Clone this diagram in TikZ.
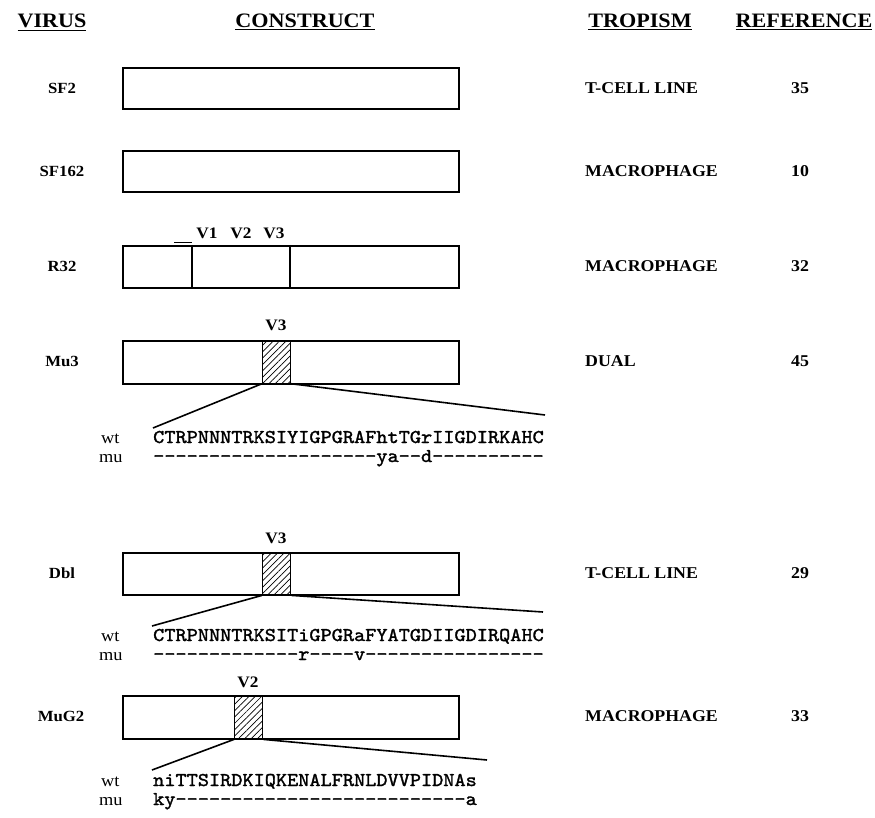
\documentclass[tikz,border=0pt]{standalone}
\usepackage{fontspec}
\setmainfont{Liberation Serif}[FakeStretch=1.08]
\newfontfamily\seqfont{lmmono10-regular}[Extension=.otf, FakeBold=1.6, FakeStretch=1.09]
\usetikzlibrary{patterns.meta}
\begin{document}
\begin{tikzpicture}[x=1pt,y=-1pt,
  hdr/.style={font=\fontsize{20.5}{24}\selectfont\bfseries, inner sep=0, anchor=base},
  lab/.style={font=\fontsize{15.5}{18}\selectfont\bfseries, inner sep=0},
  trop/.style={font=\fontsize{16.5}{18}\selectfont\bfseries, inner sep=0, anchor=west},
  num/.style={font=\fontsize{16.5}{18}\selectfont\bfseries, inner sep=0},
  vlab/.style={font=\fontsize{16}{18}\selectfont\bfseries, inner sep=0},
  con/.style={draw, line width=1.6pt, minimum width=336pt, inner sep=0, anchor=north west},
  hat/.style={draw, line width=1.4pt, pattern={Lines[angle=45,distance=4.5pt,line width=0.7pt]}, minimum width=28pt, inner sep=0, anchor=north west},
  seq/.style={font=\fontsize{19.5}{22}\selectfont\seqfont, anchor=base west, inner sep=0},
  wm/.style={font=\fontsize{17}{18}\selectfont, anchor=base west, inner sep=0},
  zl/.style={line width=1.6pt},
  div/.style={line width=1.6pt}
]
\useasboundingbox (0,0) rectangle (875,818);

% headers
\node[hdr] (hv) at (52,28) {\underline{VIRUS}};
\node[hdr] (hc) at (305,28) {\underline{CONSTRUCT}};
\node[hdr] (ht) at (640,28) {\underline{TROPISM}};
\node[hdr] (hr) at (804,28) {\underline{REFERENCE}};

% virus labels
\node[lab] (v1) at (62,88) {SF2};
\node[lab] (v2) at (62,171) {SF162};
\node[lab] (v3) at (62,266) {R32};
\node[lab] (v4) at (62,361) {Mu3};
\node[lab] (v5) at (62,573) {Dbl};
\node[lab] (v6) at (61,716) {MuG2};

% tropism
\node[trop] (t1) at (585,88) {T-CELL LINE};
\node[trop] (t2) at (585,171) {MACROPHAGE};
\node[trop] (t3) at (585,266) {MACROPHAGE};
\node[trop] (t4) at (585,361) {DUAL};
\node[trop] (t5) at (585,573) {T-CELL LINE};
\node[trop] (t6) at (585,716) {MACROPHAGE};

% references
\node[num] (r1) at (800,88) {35};
\node[num] (r2) at (800,171) {10};
\node[num] (r3) at (800,266) {32};
\node[num] (r4) at (800,361) {45};
\node[num] (r5) at (800,573) {29};
\node[num] (r6) at (800,716) {33};

% constructs
\node[con, minimum height=41pt] (b1) at (122,67) {};
\node[con, minimum height=41pt] (b2) at (122,150) {};
\node[con, minimum height=42pt] (b3) at (122,245) {};
\node[con, minimum height=43pt] (b4) at (122,340) {};
\node[con, minimum height=42pt] (b5) at (122,552) {};
\node[con, minimum height=43pt] (b6) at (122,695) {};

% R32 dividers and labels
\coordinate (d1t) at (192,245); \coordinate (d1b) at (192,287);
\coordinate (d2t) at (290,245); \coordinate (d2b) at (290,287);
\draw[div] (d1t) -- (d1b);
\draw[div] (d2t) -- (d2b);
\coordinate (ba) at (174,243); \coordinate (bb) at (192,243);
\draw[line width=1pt] (ba) -- (bb);
\node[vlab] (lv1) at (207,233) {V1};
\node[vlab] (lv2) at (241,233) {V2};
\node[vlab] (lv3) at (274,233) {V3};

% hatched regions
\node[hat, minimum height=43pt] (h4) at (262,340) {};
\node[hat, minimum height=42pt] (h5) at (262,552) {};
\node[hat, minimum height=43pt] (h6) at (234,695) {};
\node[vlab] (lh4) at (276,325) {V3};
\node[vlab] (lh5) at (276,538) {V3};
\node[vlab] (lh6) at (248,682) {V2};

% zoom lines
\coordinate (z4l) at (153,428); \coordinate (z4r) at (545,415);
\coordinate (z5l) at (152,626); \coordinate (z5r) at (543,612);
\coordinate (z6l) at (152,770); \coordinate (z6r) at (487,760);
\draw[zl] (h4.south west) -- (z4l);
\draw[zl] (h4.south east) -- (z4r);
\draw[zl] (h5.south west) -- (z5l);
\draw[zl] (h5.south east) -- (z5r);
\draw[zl] (h6.south west) -- (z6l);
\draw[zl] (h6.south east) -- (z6r);

% sequences
\node[wm] (w4) at (101,443) {wt};
\node[wm] (m4) at (99,462) {mu};
\node[seq] (s4w) at (153,443) {CTRPNNNTRKSIYIGPGRAFhtTGrIIGDIRKAHC};
\node[seq] (s4m) at (153,462) {--------------------ya--d----------};

\node[wm] (w5) at (101,641) {wt};
\node[wm] (m5) at (99,660) {mu};
\node[seq] (s5w) at (153,641) {CTRPNNNTRKSITiGPGRaFYATGDIIGDIRQAHC};
\node[seq] (s5m) at (153,660) {-------------r----v----------------};

\node[wm] (w6) at (101,786) {wt};
\node[wm] (m6) at (99,805) {mu};
\node[seq] (s6w) at (153,786) {niTTSIRDKIQKENALFRNLDVVPIDNAs};
\node[seq] (s6m) at (153,805) {ky--------------------------a};
\end{tikzpicture}
\end{document}
